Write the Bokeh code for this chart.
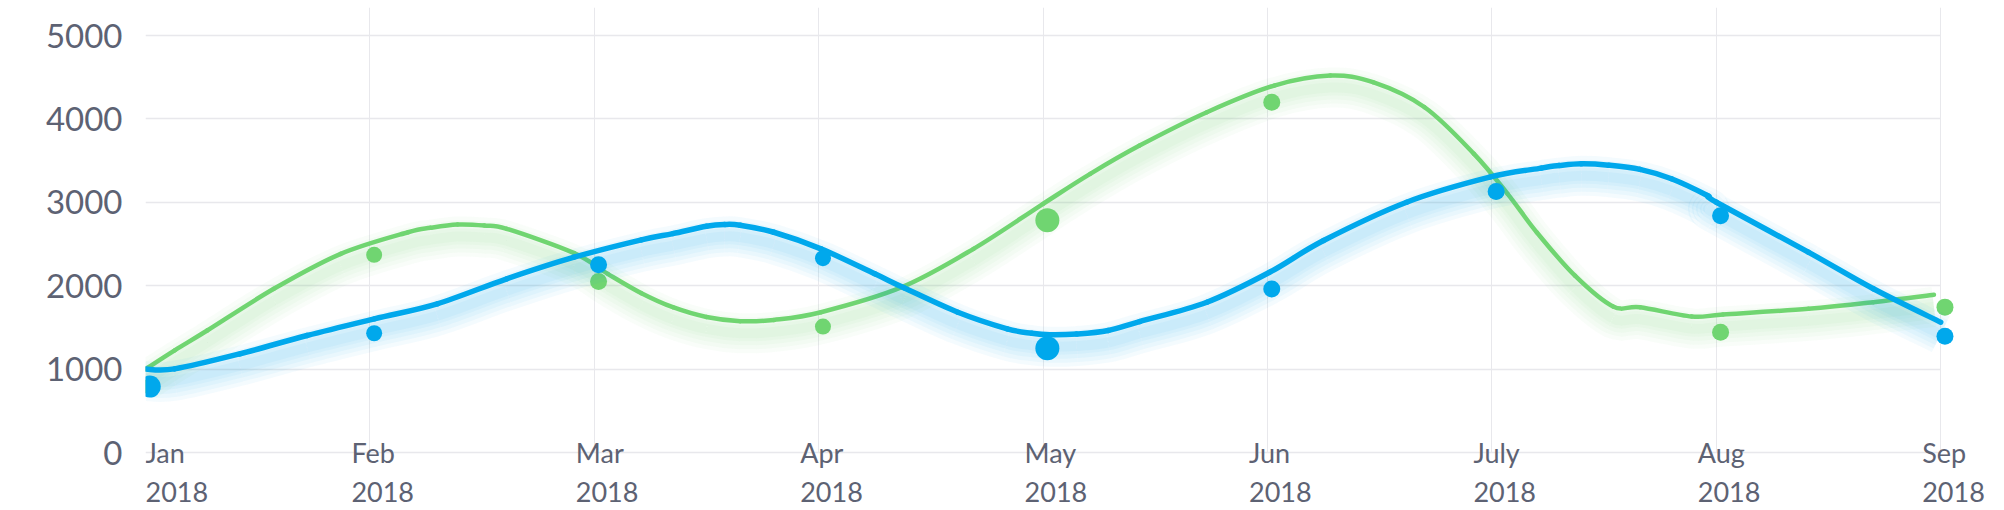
from bokeh.plotting import figure
from bokeh.models import Range1d, FixedTicker, ColumnDataSource, LabelSet, Grid
from bokeh.transform import dodge
from bokeh.core.properties import value
from bokeh.embed import file_html
from bokeh.resources import INLINE

# ---------------- data ----------------
months = ["Jan", "Feb", "Mar", "Apr", "May", "Jun", "July", "Aug", "Sep"]
years = ["2018"] * 9
month_pos = [0, 1, 2, 3, 4, 5, 6, 7, 8]
y_ticks = [0, 1000, 2000, 3000, 4000, 5000]

blue_values = [790, 1430, 2250, 2330, 1250, 1960, 3130, 2840, 1395]
green_values = [790, 2370, 2050, 1510, 2785, 4200, 3130, 1443, 1743]
blue_weight = [22, 16, 17, 16, 24, 17, 17, 17, 17]
green_weight = [16, 16, 17, 16, 24, 17, 16, 17, 17]

blue_curve_x = [0, 0.13, 0.42, 0.72, 1.02, 1.30, 1.61, 1.91, 2.21, 2.35, 2.50, 2.58,
                2.65, 2.80, 3.01, 3.25, 3.38, 3.62, 3.84, 3.95, 4.03, 4.15, 4.29, 4.43,
                4.73, 5.01, 5.25, 5.62, 5.99, 6.22, 6.30, 6.40, 6.52, 6.66, 6.80, 6.96,
                7.00, 7.41, 7.70, 8.00]
blue_curve_y = [1000, 1003, 1183, 1403, 1603, 1783, 2083, 2342, 2550, 2625, 2712, 2734,
                2725, 2641, 2442, 2142, 1975, 1682, 1483, 1430, 1411, 1420, 1463, 1570,
                1802, 2162, 2542, 3001, 3301, 3410, 3440, 3461, 3445, 3395, 3282, 3081,
                3001, 2402, 1963, 1562]

green_curve_x = [0, 0.13, 0.275, 0.572, 0.87, 1.17, 1.27, 1.39, 1.51, 1.61, 1.91, 2.06,
                 2.21, 2.35, 2.50, 2.65, 2.80, 3.01, 3.37, 3.69, 4.00, 4.21, 4.43, 4.73,
                 5.03, 5.28, 5.47, 5.70, 5.92, 6.07, 6.20, 6.37, 6.54, 6.66, 6.89, 7.03,
                 7.41, 7.70, 7.97]
green_curve_y = [1000, 1225, 1463, 1963, 2382, 2641, 2694, 2734, 2722, 2682, 2390, 2142,
                 1910, 1742, 1625, 1575, 1590, 1682, 1982, 2442, 2982, 3341, 3680, 4080,
                 4400, 4520, 4440, 4140, 3581, 3102, 2640, 2120, 1751, 1742, 1631, 1655,
                 1723, 1802, 1891]

# ---------------- styling / layout ----------------
BLUE = "#00a8ec"
GREEN = "#70d571"
TEXT = "#5d6273"
GRID = "#e8e8ec"
FONT = "Lato"

W, H = 2000, 510
B_LEFT, B_TOP = 145, 7
ZERO_PX = 452          # canvas row of the value 0
PXU = 0.0834           # pixels per value unit
PXM = 224.4            # pixels per month
Y_END = (ZERO_PX - B_TOP) / PXU
Y_START = -(H - ZERO_PX) / PXU
X_END = (W - B_LEFT) / PXM
LAST = month_pos[-1]

p = figure(width=W, height=H, output_backend="svg", toolbar_location=None,
           x_range=Range1d(0, X_END), y_range=Range1d(Y_START, Y_END),
           x_axis_location=None,
           min_border_left=B_LEFT, min_border_right=0,
           min_border_top=B_TOP, min_border_bottom=0)
p.outline_line_color = None
p.background_fill_color = "white"
p.border_fill_color = "white"

# grids (limited to the data area 0..Sep, 0..top)
p.xgrid.visible = False
p.ygrid.visible = False
p.add_layout(Grid(dimension=0, ticker=FixedTicker(ticks=month_pos),
                  grid_line_color=GRID, grid_line_width=1,
                  cross_bounds=(0, Y_END)), "center")
p.add_layout(Grid(dimension=1, ticker=FixedTicker(ticks=y_ticks),
                  grid_line_color=GRID, grid_line_width=1.5,
                  cross_bounds=(0, LAST)), "center")

# y axis
p.yaxis.ticker = FixedTicker(ticks=y_ticks)
p.yaxis.axis_line_color = None
p.yaxis.major_tick_line_color = None
p.yaxis.minor_tick_line_color = None
p.yaxis.major_tick_out = 0
p.yaxis.major_tick_in = 0
p.yaxis.major_label_standoff = 23
p.yaxis.major_label_text_font = FONT
p.yaxis.major_label_text_font_size = "33px"
p.yaxis.major_label_text_color = TEXT


def smooth_source(xs, ys):
    """Cubic Bezier segments through the read points (Catmull-Rom style)."""
    P = list(zip(xs, ys))
    n = len(P)
    d = {k: [] for k in ("x0", "y0", "x1", "y1", "cx0", "cy0", "cx1", "cy1")}
    for i in range(n - 1):
        a = P[i - 1] if i > 0 else P[i]
        b, c = P[i], P[i + 1]
        e = P[i + 2] if i + 2 < n else P[i + 1]
        d["x0"].append(b[0]); d["y0"].append(b[1])
        d["x1"].append(c[0]); d["y1"].append(c[1])
        d["cx0"].append(b[0] + (c[0] - a[0]) / 6); d["cy0"].append(b[1] + (c[1] - a[1]) / 6)
        d["cx1"].append(c[0] - (e[0] - b[0]) / 6); d["cy1"].append(c[1] - (e[1] - b[1]) / 6)
    return ColumnDataSource(d)


shift = -12 / PXU   # glow sits 12 px below the line


def glow(src, color, alpha):
    for w in [40, 32, 24, 16, 10]:
        p.bezier(x0="x0", y0=dodge("y0", shift), x1="x1", y1=dodge("y1", shift),
                 cx0="cx0", cy0=dodge("cy0", shift), cx1="cx1", cy1=dodge("cy1", shift),
                 source=src, line_width=w, line_color=color, line_alpha=alpha,
                 line_cap="butt")


def curve(src, color, width):
    p.bezier(x0="x0", y0="y0", x1="x1", y1="y1", cx0="cx0", cy0="cy0",
             cx1="cx1", cy1="cy1", source=src, line_width=width,
             line_color=color, line_cap="round")


gsrc = smooth_source(green_curve_x, green_curve_y)
bsrc = smooth_source(blue_curve_x, blue_curve_y)
gdots = ColumnDataSource(dict(x=month_pos, y=green_values, s=green_weight))
bdots = ColumnDataSource(dict(x=month_pos, y=blue_values, s=blue_weight))

# green series
glow(gsrc, GREEN, 0.04)
curve(gsrc, GREEN, 4.5)
p.scatter(x=dodge("x", 0.019), y="y", size="s", source=gdots,
          fill_color=GREEN, line_color=None)

# blue series
glow(bsrc, BLUE, 0.045)
curve(bsrc, BLUE, 5.5)
p.scatter(x=dodge("x", 0.019), y="y", size="s", source=bdots,
          fill_color=BLUE, line_color=None)

# x labels (left aligned, first one clamped to the frame edge)
dx = [0 if i == 0 else -18.5 for i in range(len(months))]
lsrc = ColumnDataSource(dict(x=month_pos, y=[0] * len(months), m=months, yr=years, dx=dx))
for col, off in [("m", -10), ("yr", -49)]:
    p.add_layout(LabelSet(x="x", y="y", text=col, source=lsrc, x_offset="dx", y_offset=off,
                          text_align="left", text_baseline="alphabetic",
                          text_font=value(FONT), text_font_size=value("27px"),
                          text_color=TEXT))

open("out.html", "w").write(file_html(p, INLINE))
